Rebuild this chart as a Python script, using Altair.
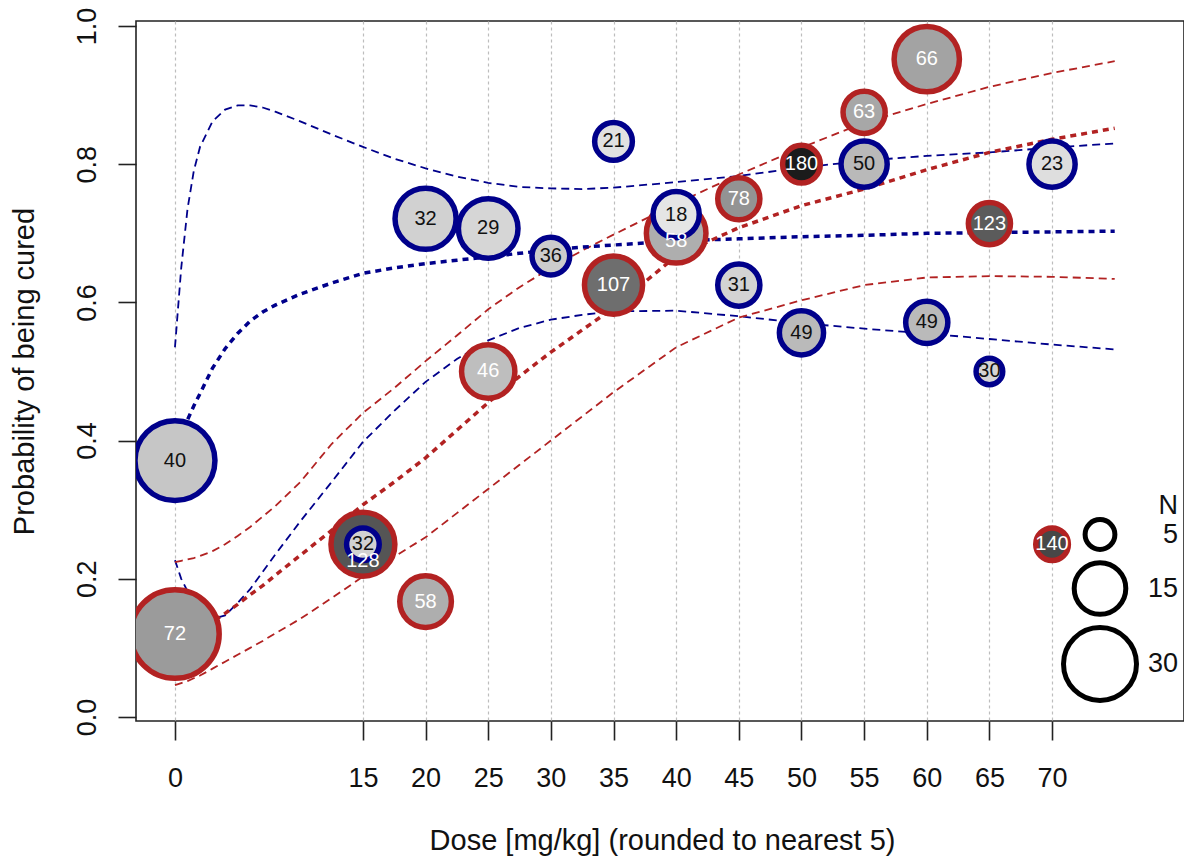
import altair as alt
import pandas as pd

# ---------------- data ----------------
blue_dose = [0, 15, 20, 25, 30, 35, 40, 45, 50, 55, 60, 65, 70]
blue_p    = [0.371, 0.25, 0.721, 0.707, 0.667, 0.833, 0.727, 0.625, 0.556, 0.80, 0.571, 0.50, 0.80]
blue_n    = [36, 6, 21, 20, 8, 8, 12, 10, 11, 12, 10, 4, 12]
blue_lab  = [40, 32, 32, 29, 36, 21, 18, 31, 49, 50, 49, 30, 23]

red_dose = [0, 15, 20, 25, 35, 40, 45, 50, 55, 60, 65, 70]
red_p    = [0.12, 0.25, 0.167, 0.50, 0.625, 0.70, 0.75, 0.80, 0.875, 0.952, 0.714, 0.25]
red_n    = [44, 23, 15, 16, 19, 20, 10, 8, 10, 24, 10, 6]
red_lab  = [72, 128, 58, 46, 107, 58, 78, 180, 63, 66, 123, 140]

curve_dose = [0, 0.5, 1, 1.5, 2, 3, 4, 5, 6, 7, 8, 10, 12.5, 15, 17.5, 20, 22.5, 25,
              27.5, 30, 32.5, 35, 40, 45, 50, 55, 60, 65, 70, 75]
blue_fit = [0.37, 0.40, 0.43, 0.45, 0.468, 0.505, 0.533, 0.555, 0.573, 0.586, 0.596, 0.612,
            0.628, 0.642, 0.650, 0.656, 0.661, 0.666, 0.671, 0.676, 0.680, 0.683, 0.689,
            0.692, 0.695, 0.697, 0.700, 0.701, 0.702, 0.703]
blue_hi = [0.535, 0.65, 0.735, 0.79, 0.825, 0.862, 0.879, 0.885, 0.885, 0.882, 0.876, 0.862,
           0.843, 0.825, 0.808, 0.794, 0.782, 0.773, 0.767, 0.765, 0.764, 0.766, 0.774,
           0.783, 0.795, 0.805, 0.812, 0.817, 0.824, 0.830]
blue_lo = [0.227, 0.20, 0.182, 0.165, 0.152, 0.142, 0.147, 0.165, 0.185, 0.21, 0.235, 0.283,
           0.34, 0.398, 0.443, 0.485, 0.518, 0.545, 0.563, 0.575, 0.582, 0.587, 0.588,
           0.580, 0.570, 0.562, 0.555, 0.547, 0.539, 0.532]
red_fit = [0.115, 0.117, 0.12, 0.123, 0.127, 0.138, 0.150, 0.163, 0.177, 0.19, 0.205, 0.234,
           0.27, 0.307, 0.34, 0.375, 0.415, 0.455, 0.493, 0.528, 0.56, 0.592, 0.667,
           0.708, 0.740, 0.764, 0.792, 0.817, 0.836, 0.852]
red_hi = [0.224, 0.226, 0.228, 0.23, 0.233, 0.24, 0.25, 0.262, 0.275, 0.29, 0.305, 0.34,
          0.395, 0.44, 0.476, 0.515, 0.552, 0.59, 0.622, 0.65, 0.675, 0.698, 0.743,
          0.785, 0.824, 0.86, 0.887, 0.912, 0.932, 0.949]
red_lo = [0.046, 0.049, 0.052, 0.056, 0.06, 0.07, 0.08, 0.09, 0.10, 0.11, 0.121, 0.142,
          0.172, 0.203, 0.232, 0.26, 0.295, 0.33, 0.365, 0.40, 0.435, 0.47, 0.535,
          0.578, 0.603, 0.625, 0.636, 0.638, 0.637, 0.634]

x_ticks = [0, 15, 20, 25, 30, 35, 40, 45, 50, 55, 60, 65, 70]
y_ticks = [0.0, 0.2, 0.4, 0.6, 0.8, 1.0]
legend_values = [5, 15, 30]

# ---------------- tables ----------------
points = pd.concat([
    pd.DataFrame({"dose": red_dose, "p": red_p, "N": red_n, "lab": red_lab, "grp": "red"}),
    pd.DataFrame({"dose": blue_dose, "p": blue_p, "N": blue_n, "lab": blue_lab, "grp": "blue"}),
], ignore_index=True)

series = {"blue_fit": blue_fit, "blue_hi": blue_hi, "blue_lo": blue_lo,
          "red_fit": red_fit, "red_hi": red_hi, "red_lo": red_lo}
curves = pd.concat([pd.DataFrame({"dose": curve_dose, "p": v, "series": k})
                    for k, v in series.items()], ignore_index=True)

FONT = "Liberation Sans"
BLUE = "#00008b"
RED = "#b22222"

xscale = alt.Scale(domain=[-3.11, 80.53], nice=False, zero=False)
yscale = alt.Scale(domain=[-0.0058, 1.0072], nice=False, zero=False)

xaxis = alt.Axis(values=x_ticks, title="Dose [mg/kg] (rounded to nearest 5)",
                 grid=True, gridDash=[3, 3], gridColor="#bdbdbd", gridWidth=1.2,
                 domain=False, tickSize=19, tickWidth=1.6, tickColor="#222",
                 labelFontSize=27, labelPadding=25, labelFlush=False, labelOverlap=False,
                 titleFontSize=29, titleFontWeight="normal", titleX=526, titleY=128,
                 titleAlign="center", titleBaseline="alphabetic")
yaxis = alt.Axis(values=y_ticks, format=".1f", title="Probability of being cured",
                 grid=False, domain=False, tickSize=18, tickWidth=1.6, tickColor="#222",
                 labelFontSize=27, labelAngle=270, labelAlign="center",
                 labelBaseline="alphabetic", labelPadding=23, labelFlush=False,
                 labelOverlap=False,
                 titleFontSize=29, titleFontWeight="normal", titleAngle=270,
                 titleX=-103, titleY=350, titleAlign="center", titleBaseline="alphabetic")

x_enc = alt.X("dose:Q", scale=xscale, axis=xaxis)
y_enc = alt.Y("p:Q", scale=yscale, axis=yaxis)

lines = alt.Chart(curves)
blue_fit_l = lines.transform_filter("datum.series == 'blue_fit'").mark_line(
    color=BLUE, strokeWidth=3.5, strokeDash=[6, 5], clip=True).encode(x=x_enc, y=y_enc)
blue_ci_l = lines.transform_filter("datum.series == 'blue_hi' || datum.series == 'blue_lo'").mark_line(
    color=BLUE, strokeWidth=1.8, strokeDash=[8, 5], clip=True).encode(x=x_enc, y=y_enc, detail="series:N")
red_fit_l = lines.transform_filter("datum.series == 'red_fit'").mark_line(
    color=RED, strokeWidth=3.5, strokeDash=[6, 5], clip=True).encode(x=x_enc, y=y_enc)
red_ci_l = lines.transform_filter("datum.series == 'red_hi' || datum.series == 'red_lo'").mark_line(
    color=RED, strokeWidth=1.8, strokeDash=[8, 5], clip=True).encode(x=x_enc, y=y_enc, detail="series:N")

size_enc = alt.Size("N:Q", scale=alt.Scale(type="linear", domain=[0, 30], range=[0, 5329]),
                    legend=alt.Legend(title="N", values=legend_values, orient="none",
                                      legendX=925, legendY=472, symbolType="circle",
                                      symbolStrokeColor="black", symbolFillColor="transparent",
                                      symbolStrokeWidth=5, symbolOpacity=1,
                                      labelFontSize=27, titleFontSize=27,
                                      titleFontWeight="normal", titlePadding=-3,
                                      labelAlign="right", labelOffset=39,
                                      rowPadding=-15, padding=0,
                                      titleAnchor="end", titleAlign="right",
                                      labelColor="#111", titleColor="#111"))
fill_enc = alt.Fill("lab:Q", scale=alt.Scale(domain=[0, 200], range=["#ffffff", "#000000"]),
                    legend=None)

pts = alt.Chart(points)
red_c = pts.transform_filter("datum.grp == 'red'").mark_circle(
    stroke=RED, strokeWidth=5.5, opacity=1, fillOpacity=1, clip=True).encode(
    x=x_enc, y=y_enc, size=size_enc, fill=fill_enc)
blue_c = pts.transform_filter("datum.grp == 'blue'").mark_circle(
    stroke=BLUE, strokeWidth=5.5, opacity=1, fillOpacity=1, clip=True).encode(
    x=x_enc, y=y_enc, size=size_enc, fill=fill_enc)

red_t = pts.transform_filter("datum.grp == 'red' && datum.dose != 15 && datum.dose != 40").mark_text(
    font=FONT, fontSize=20, color="white").encode(x=x_enc, y=y_enc, text="lab:Q")
red_t15 = pts.transform_filter("datum.grp == 'red' && datum.dose == 15").mark_text(
    font=FONT, fontSize=20, color="white", dy=17).encode(x=x_enc, y=y_enc, text="lab:Q")
red_t40 = pts.transform_filter("datum.grp == 'red' && datum.dose == 40").mark_text(
    font=FONT, fontSize=20, color="white", dy=8).encode(x=x_enc, y=y_enc, text="lab:Q")
blue_t = pts.transform_filter("datum.grp == 'blue'").mark_text(
    font=FONT, fontSize=20, color="#111").encode(x=x_enc, y=y_enc, text="lab:Q")

chart = alt.layer(
    blue_ci_l, red_ci_l, blue_fit_l, red_fit_l,
    red_c, blue_c, red_t, red_t15, red_t40, blue_t
).properties(
    width=1048, height=700,
    autosize=alt.AutoSizeParams(type="none"),
    padding={"left": 128, "top": 13, "right": 0, "bottom": 137},
).configure_view(
    stroke="#222", strokeWidth=1.6
).configure_axis(
    labelFont=FONT, titleFont=FONT, labelColor="#111", titleColor="#111"
).configure_legend(
    labelFont=FONT, titleFont=FONT
)

chart.save("out.html", embed_options={"renderer": "svg", "actions": False})
